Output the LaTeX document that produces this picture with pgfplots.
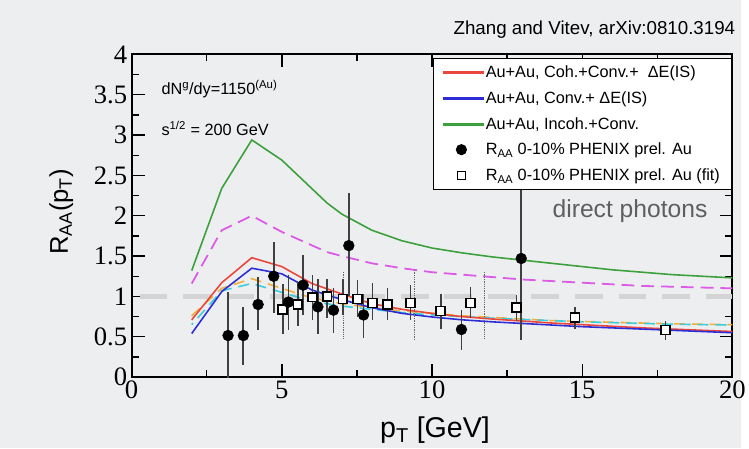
\documentclass[border=0pt]{standalone}
\usepackage{fontspec}
\setmainfont{Liberation Sans}
\newfontfamily\tickfont{Liberation Serif}
\usepackage{pgfplots}
\pgfplotsset{compat=1.18}
\definecolor{bg}{RGB}{237,238,240}
\definecolor{cred}{RGB}{235,70,60}
\definecolor{cblue}{RGB}{45,45,215}
\definecolor{cgreen}{RGB}{60,160,60}
\definecolor{cmag}{RGB}{220,90,230}
\definecolor{corange}{RGB}{240,175,60}
\definecolor{ccyan}{RGB}{60,205,220}
\definecolor{cgrayline}{RGB}{212,212,212}
\definecolor{ctext}{RGB}{95,95,95}
\pgfplotsset{
  mylinelegend/.style={legend image code/.code={\fill[##1] (0bp,-0.9bp) rectangle (40bp,0.9bp);}},
  mymarklegend/.style={legend image code/.code={\draw[##1] plot[only marks] coordinates {(18bp,0bp)};}},
}
\begin{document}
\begin{tikzpicture}
\fill[bg] (0,0) rectangle (749bp,453bp);
\begin{axis}[
  at={(133bp,72bp)}, anchor=south west,
  scale only axis, width=607bp, height=326bp,
  xmin=0, xmax=20, ymin=0, ymax=4,
  xtick={0,5,10,15,20},
  ytick={0,0.5,1,1.5,2,2.5,3,3.5,4},
  minor x tick num=1, minor y tick num=1,
  tick align=inside,
  major tick length=13bp, minor tick length=7bp,
  every tick/.style={black, line width=1.4bp},
  axis line style={line width=2bp},
  tick label style={font=\tickfont\fontsize{27}{27}\selectfont},
  yticklabel style={xshift=-1bp},
  /pgf/number format/assume math mode=true,
  xlabel={p\textsubscript{T} [GeV]},
  xlabel style={font=\fontsize{29}{29}\selectfont, at={(axis description cs:0.505,-0.163)}, anchor=center},
  ylabel={R\textsubscript{AA}(p\textsubscript{T})},
  ylabel style={font=\fontsize{26}{26}\selectfont, at={(axis description cs:-0.117,0.512)}, anchor=center, rotate=0},
  legend style={at={(1,0.99)}, anchor=north east, draw=black, line width=1.2bp, fill=white,
    font=\fontsize{16.5}{19}\selectfont, inner xsep=10bp, inner ysep=6bp, row sep=8.5bp},
  legend cell align=left,
  error bars/error bar style={line width=1.8bp, black!75},
  error bars/error mark=none,
]
% legend images
\addlegendimage{mylinelegend, cred}
\addlegendentry{Au+Au, Coh.+Conv.+\ \ ΔE(IS)}
\addlegendimage{mylinelegend, cblue}
\addlegendentry{Au+Au, Conv.+ ΔE(IS)}
\addlegendimage{mylinelegend, cgreen}
\addlegendentry{Au+Au, Incoh.+Conv.}
\addlegendimage{mymarklegend, black, mark=*, mark size=5bp}
\addlegendentry{R\textsubscript{AA} 0-10\% PHENIX prel. Au}
\addlegendimage{mymarklegend, black, mark=square*, mark size=4bp, mark options={fill=white, draw=black, line width=1.5bp}}
\addlegendentry{R\textsubscript{AA} 0-10\% PHENIX prel. Au (fit)}

% gray reference line at 1
\addplot[forget plot, cgrayline, line width=5bp, dash pattern=on 28bp off 16bp, dash phase=-8bp] coordinates {(0,1) (20,1)};

% magenta dashed
\addplot[forget plot, cmag, line width=1.8bp, dash pattern=on 13bp off 7bp] coordinates {
(2,1.16)(3,1.82)(4,2.0)(5,1.80)(6.5,1.55)(7,1.50)(8,1.41)(9,1.35)(10,1.30)(11,1.27)(12,1.24)(13,1.21)(14,1.19)(15,1.17)(16,1.15)(17,1.13)(18,1.12)(19,1.11)(20,1.10)};
% green
\addplot[forget plot, cgreen, line width=1.6bp] coordinates {
(2,1.32)(3,2.34)(4,2.94)(5,2.69)(6.5,2.16)(7,2.02)(8,1.82)(9,1.69)(10,1.60)(11,1.54)(12,1.49)(13,1.45)(14,1.41)(15,1.37)(16,1.33)(17,1.30)(18,1.27)(19,1.25)(20,1.23)};
% orange dashed
\addplot[forget plot, corange, line width=1.6bp, dash pattern=on 11bp off 7bp] coordinates {
(2,0.76)(3,1.10)(4,1.22)(5,1.10)(6,0.98)(7,0.91)(8,0.86)(9,0.82)(10,0.79)(11,0.76)(12,0.74)(13,0.72)(14,0.70)(15,0.69)(16,0.68)(17,0.67)(18,0.66)(19,0.655)(20,0.65)};
% cyan dashed
\addplot[forget plot, ccyan, line width=1.6bp, dash pattern=on 11bp off 7bp, dash phase=9bp] coordinates {
(2,0.65)(3,1.07)(4,1.16)(5,1.05)(6,0.94)(7,0.88)(8,0.84)(9,0.80)(10,0.77)(11,0.75)(12,0.73)(13,0.715)(14,0.70)(15,0.685)(16,0.675)(17,0.665)(18,0.655)(19,0.65)(20,0.645)};
% red
\addplot[forget plot, cred, line width=1.6bp] coordinates {
(2,0.71)(3,1.17)(4,1.48)(5,1.37)(6,1.16)(7,1.03)(8,0.91)(9,0.84)(10,0.79)(11,0.75)(12,0.72)(13,0.695)(14,0.67)(15,0.65)(16,0.63)(17,0.61)(18,0.595)(19,0.58)(20,0.565)};
% blue
\addplot[forget plot, cblue, line width=1.6bp] coordinates {
(2,0.54)(3,1.06)(4,1.35)(5,1.28)(6,1.08)(7,0.96)(8,0.86)(9,0.79)(10,0.745)(11,0.71)(12,0.685)(13,0.665)(14,0.645)(15,0.625)(16,0.61)(17,0.595)(18,0.58)(19,0.565)(20,0.55)};

% dotted vertical markers
\addplot[forget plot, black!60, line width=0.8bp, densely dotted] coordinates {(7.04,0.48)(7.04,1.30)};
\addplot[forget plot, black!60, line width=0.8bp, densely dotted] coordinates {(9.42,0.46)(9.42,1.33)};
\addplot[forget plot, black!60, line width=0.8bp, densely dotted] coordinates {(11.74,0.48)(11.74,1.30)};

% squares (fit)
\addplot[forget plot, only marks, mark=square*, mark size=4.5bp, mark options={fill=white, draw=black, line width=1.6bp},
  error bars/.cd, y dir=both, y explicit]
  table[x=x, y=y, y error plus=ep, y error minus=em] {
x y ep em
5.03 0.84 0.32 0.31
5.53 0.90 0.28 0.27
6.02 0.99 0.27 0.28
6.51 1.00 0.22 0.27
7.03 0.97 0.25 0.20
7.52 0.97 0.23 0.22
8.02 0.92 0.25 0.21
8.52 0.90 0.20 0.19
9.28 0.92 0.22 0.21
10.29 0.82 0.21 0.22
11.28 0.92 0.20 0.19
12.81 0.86 0.16 0.17
14.76 0.74 0.135 0.14
17.77 0.585 0.11 0.12
};
% circles
\addplot[forget plot, only marks, mark=*, mark size=5.5bp, black,
  error bars/.cd, y dir=both, y explicit]
  table[x=x, y=y, y error plus=ep, y error minus=em] {
x y ep em
3.21 0.515 0.54 0.54
3.72 0.515 0.355 0.36
4.21 0.90 0.34 0.32
4.73 1.25 0.43 0.45
5.22 0.93 0.33 0.345
5.71 1.14 0.37 0.37
6.20 0.87 0.35 0.33
6.72 0.83 0.27 0.28
7.23 1.63 0.65 0.63
7.72 0.77 0.26 0.29
10.98 0.59 0.24 0.25
12.97 1.47 1.01 1.01
};
\end{axis}
\node[anchor=east, font=\fontsize{19}{19}\selectfont, inner sep=0pt] at (743bp,423bp) {Zhang and Vitev, arXiv:0810.3194};
\node[anchor=west, font=\fontsize{16.5}{16.5}\selectfont, inner sep=0pt] at (163bp,363bp) {dN\textsuperscript{g}/dy=1150\textsuperscript{(Au)}};
\node[anchor=west, font=\fontsize{16.5}{16.5}\selectfont, inner sep=0pt] at (163bp,323bp) {s\textsuperscript{1/2} = 200 GeV};
\node[anchor=east, font=\fontsize{25}{25}\selectfont, text=ctext, inner sep=0pt] at (715bp,240bp) {direct photons};
\end{tikzpicture}
\end{document}
